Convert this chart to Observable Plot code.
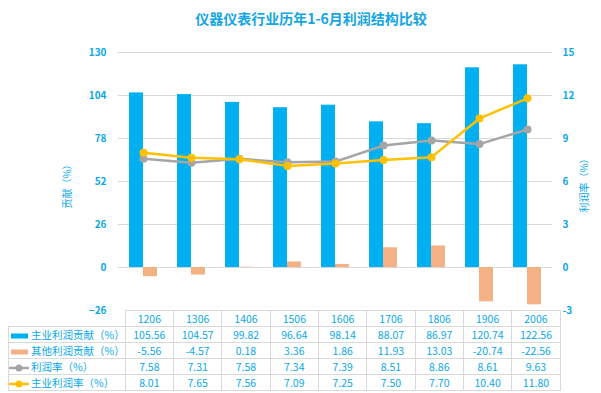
<!DOCTYPE html>
<html><head><meta charset="utf-8">
<script src="https://cdn.jsdelivr.net/npm/d3@7"></script>
<script src="https://cdn.jsdelivr.net/npm/@observablehq/plot@0.6"></script>
<style>
body{margin:0;background:#fff;font-family:"Noto Sans CJK SC","Noto Sans",sans-serif;color:#0AA8E8;}
#wrap{position:relative;width:601px;height:393px;overflow:hidden;}
#title{position:absolute;top:8px;left:311px;transform:translateX(-50%);font-size:14px;font-weight:bold;white-space:nowrap;color:#14A5E3;}
.ylab{position:absolute;font-size:10px;white-space:nowrap;transform:translate(-50%,-50%) rotate(-90deg);}
#chart{position:absolute;left:0;top:0;}
table{position:absolute;left:8px;top:310px;border-collapse:collapse;table-layout:fixed;font-size:10.5px;}
td{border:1px solid #D9D9D9;height:15px;padding:0;text-align:center;white-space:nowrap;line-height:14px;}
td.lg{text-align:left;}
td.blank{border:none;}
td svg{vertical-align:middle;margin-right:2px;}
</style></head>
<body><div id="wrap">
<div id="title">仪器仪表行业历年1-6月利润结构比较</div>
<div id="chart"></div>
<div class="ylab" style="left:66px;top:184px">贡献（%）</div>
<div class="ylab" style="left:583px;top:183px">利润率（%）</div>
<table id="tbl"></table>
</div>
<script>
const years = ["1206","1306","1406","1506","1606","1706","1806","1906","2006"];
const mainContrib = [105.56,104.57,99.82,96.64,98.14,88.07,86.97,120.74,122.56];
const otherContrib = [-5.56,-4.57,0.18,3.36,1.86,11.93,13.03,-20.74,-22.56];
const profitRate = [7.58,7.31,7.58,7.34,7.39,8.51,8.86,8.61,9.63];
const mainRate = [8.01,7.65,7.56,7.09,7.25,7.50,7.70,10.40,11.80];
const leftTicks = [-26,0,26,52,78,104,130];
const rightTicks = [-3,0,3,6,9,12,15];
const seriesNames = ["主业利润贡献（%）","其他利润贡献（%）","利润率（%）","主业利润率（%）"];

const BLUE="#00B0F0", ORANGE="#F4B183", GRAY="#A5A5A5", YELLOW="#FFC000";
const k = 26/3; // right axis -> left axis units
const rows = years.map((y,i)=>({year:y, main:mainContrib[i], other:otherContrib[i], rate:profitRate[i], mrate:mainRate[i]}));

const chart = Plot.plot({
  width:601, height:393,
  marginTop:52, marginBottom:83, marginLeft:118, marginRight:49,
  style:{fontFamily:'"Noto Sans CJK SC","Noto Sans",sans-serif', fontSize:"10px", color:"#0AA8E8", background:"transparent"},
  x:{type:"band", domain:years, paddingInner:0.42, paddingOuter:0.21, axis:null},
  y:{domain:[-26,130]},
  marks:[
    Plot.ruleY(leftTicks.filter(v=>v>-26), {stroke:"#D9D9D9", strokeWidth:1}),
    Plot.barY(rows, {x:"year", y:"main", fill:BLUE, insetRight:14}),
    Plot.barY(rows, {x:"year", y:"other", fill:ORANGE, insetLeft:14}),
    Plot.line(rows, {x:"year", y:d=>d.rate*k, stroke:GRAY, strokeWidth:2.5}),
    Plot.dot(rows, {x:"year", y:d=>d.rate*k, fill:GRAY, r:4}),
    Plot.line(rows, {x:"year", y:d=>d.mrate*k, stroke:YELLOW, strokeWidth:2.5}),
    Plot.dot(rows, {x:"year", y:d=>d.mrate*k, fill:YELLOW, r:4}),
    Plot.axisY(leftTicks, {anchor:"left", tickSize:0, tickPadding:12, label:null, fontWeight:"600"}),
    Plot.axisY(rightTicks.map(v=>v*k), {anchor:"right", tickSize:0, tickPadding:10, label:null, fontWeight:"600", tickFormat:v=>String(Math.round(v/k))})
  ]
});
document.getElementById("chart").appendChild(chart);

// data table
const tbl = document.getElementById("tbl");
const colW = (552-117)/years.length;
let html = `<colgroup><col style="width:109px">${years.map(()=>`<col style="width:${colW}px">`).join("")}</colgroup>`;
html += `<tr><td class="blank"></td>${years.map(y=>`<td>${y}</td>`).join("")}</tr>`;
const keys = [
  `<svg width="20" height="8"><rect x="2" y="1.5" width="17" height="5" fill="${BLUE}"/></svg>`,
  `<svg width="20" height="8"><rect x="2" y="1.5" width="17" height="5" fill="${ORANGE}"/></svg>`,
  `<svg width="20" height="8"><line x1="0" x2="20" y1="4" y2="4" stroke="${GRAY}" stroke-width="2.5"/><circle cx="10" cy="4" r="3.5" fill="${GRAY}"/></svg>`,
  `<svg width="20" height="8"><line x1="0" x2="20" y1="4" y2="4" stroke="${YELLOW}" stroke-width="2.5"/><circle cx="10" cy="4" r="3.5" fill="${YELLOW}"/></svg>`
];
const vals = [mainContrib, otherContrib, profitRate, mainRate];
vals.forEach((arr,r)=>{
  html += `<tr><td class="lg">${keys[r]}${seriesNames[r]}</td>${arr.map(v=>`<td>${v.toFixed(2)}</td>`).join("")}</tr>`;
});
tbl.innerHTML = html;
</script>
</body></html>
